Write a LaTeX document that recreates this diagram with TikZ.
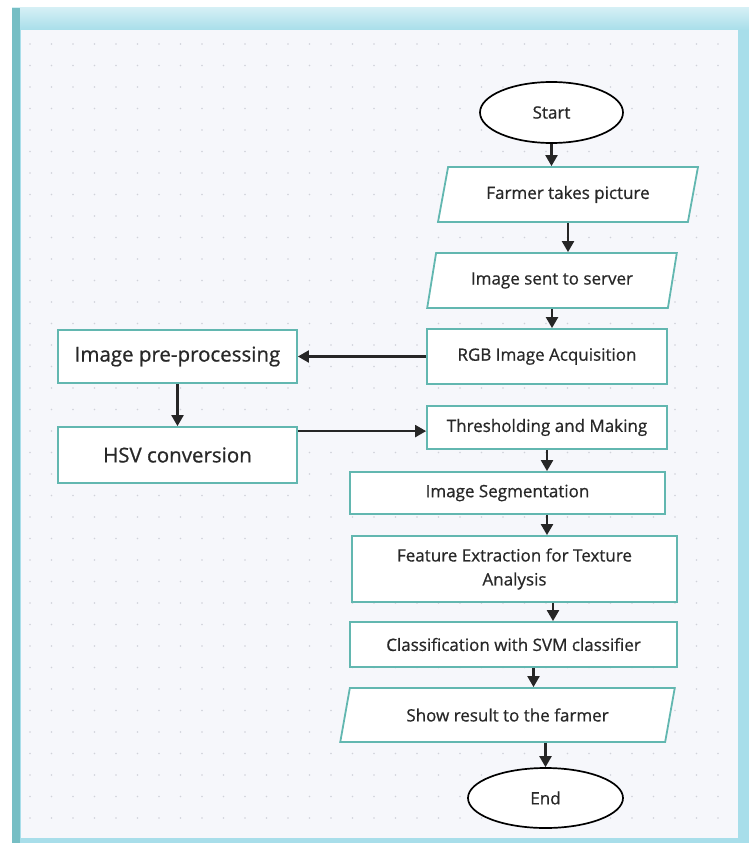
\documentclass[tikz,border=0pt]{standalone}
\usepackage{fontspec}
\setmainfont{Open Sans}[FakeBold=0.7]
\usetikzlibrary{shapes.geometric,arrows.meta}

\definecolor{boxline}{RGB}{98,183,176}
\definecolor{frameblue}{RGB}{168,222,234}
\definecolor{frametop}{RGB}{212,239,245}
\definecolor{frameleft}{RGB}{118,190,196}
\definecolor{panel}{RGB}{246,247,251}
\definecolor{dotgray}{RGB}{208,210,217}
\definecolor{txt}{RGB}{40,40,40}

\begin{document}
\begin{tikzpicture}[x=1pt, y=-1pt,
  every node/.style={text=txt, font=\fontsize{17}{24}\selectfont},
  procbox/.style={draw=boxline, line width=1.8pt, fill=white, rectangle, inner sep=0pt},
  bigbox/.style={procbox, font=\fontsize{20.5}{24}\selectfont},
  iobox/.style={draw=boxline, line width=1.8pt, fill=white, trapezium, trapezium stretches=true, inner sep=0pt},
  termbox/.style={draw=black, line width=1.7pt, fill=white, ellipse, inner sep=0pt},
  arr/.style={-{Triangle[width=12pt,length=11pt]}, line width=2.2pt, black!85}]
\useasboundingbox (0,0) rectangle (749,843);

% Window frame
\fill[white] (0,0) rectangle (749,843);
\fill[frameblue] (12,8) rectangle (749,843);
\shade[top color=frametop, bottom color=frameblue] (12,8) rectangle (749,30);
\fill[frameleft] (12,8) rectangle (20,843);
\fill[panel] (21,30) rectangle (738,838);

% Dotted canvas
\foreach \x in {30,51.5,...,730}
  \foreach \y in {44,65.5,...,830}
    \fill[dotgray] (\x,\y) circle (0.9pt);

% Start and end
\node[termbox, minimum width=143pt, minimum height=61pt] (start) at (551.5,112.5) {Start};
\node[termbox, minimum width=155pt, minimum height=60pt] (end) at (545.5,798) {End};

% Input / output steps
\node[iobox, trapezium left angle=68, trapezium right angle=112, minimum width=260pt, minimum height=55pt] (farmer) at (568,194.5) {Farmer takes picture};
\node[iobox, trapezium left angle=69, trapezium right angle=111, minimum width=250pt, minimum height=55pt] (sent) at (552,280.5) {Image sent to server};
\node[iobox, trapezium left angle=65, trapezium right angle=115, minimum width=335pt, minimum height=54pt] (show) at (507.5,715) {Show result to the farmer};

% Processing steps
\node[procbox, minimum width=240pt, minimum height=55pt] (rgb) at (547,356.5) {RGB Image Acquisition};
\node[bigbox, minimum width=239pt, minimum height=53pt] (pre) at (177.5,356.5) {Image pre-processing};
\node[bigbox, minimum width=239pt, minimum height=56pt] (hsv) at (177.5,455) {HSV conversion};
\node[procbox, minimum width=240pt, minimum height=43pt] (thr) at (547,427.5) {Thresholding and Making};
\node[procbox, minimum width=315pt, minimum height=42pt] (seg) at (507.5,493) {Image Segmentation};
\node[procbox, minimum width=325pt, minimum height=66pt, align=center] (feat) at (514.5,569) {Feature Extraction for Texture\\Analysis};
\node[procbox, minimum width=327pt, minimum height=45pt] (cls) at (513.5,644.5) {Classification with SVM classifier};

% Flow
\draw[arr] (start.south) -- (start.south |- farmer.north);
\draw[arr] (farmer.south) -- (farmer.south |- sent.north);
\draw[arr] (sent.south) -- (sent.south |- rgb.north);
\draw[arr] (rgb.west) -- (pre.east);
\draw[arr] (pre.south) -- (hsv.north);
\draw[arr] ([yshift=-5pt]hsv.north east) -- ([yshift=-5pt]hsv.north east -| thr.west);
\draw[arr] (thr.south) -- (thr.south |- seg.north);
\draw[arr] (seg.south -| thr.south) -- (feat.north -| thr.south);
\draw[arr] ([xshift=38.5pt]feat.south) -- ([xshift=38.5pt]feat.south |- cls.north);
\draw[arr] ([xshift=20pt]cls.south) -- ([xshift=20pt]cls.south |- show.north);
\draw[arr] (end.north |- show.south) -- (end.north);

\end{tikzpicture}
\end{document}
